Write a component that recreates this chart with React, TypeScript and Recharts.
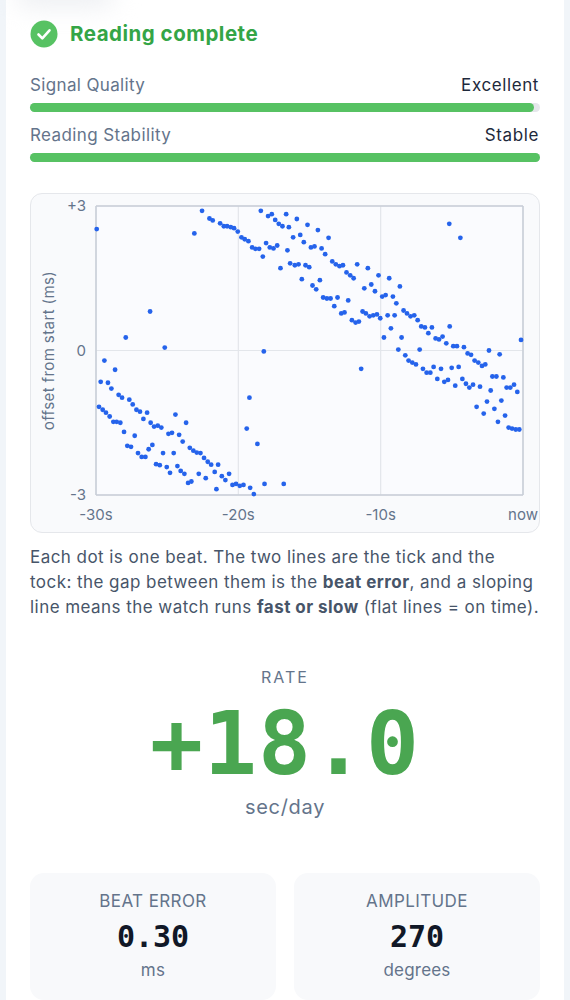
import type { CSSProperties, ReactNode } from 'react';
import { CartesianGrid, ReferenceLine, Scatter, ScatterChart, XAxis, YAxis } from 'recharts';

const xTicks = [-30, -20, -10, 0];
const yTicks = [-3, 0, 3];
const xTickLabels = ['-30s', '-20s', '-10s', 'now'];
const yTickLabels = ['-3', '0', '+3'];

// seconds before now
const beatSeconds = [
  -29.95, -23.09, -22.55, -22.03, -21.8, -21.28, -21.02, -20.79, -20.53, -20.3, -20.04, -19.78, -19.55, -19.29, -19.03, -18.8, -18.54, -18.28, -18.05, -17.79, -17.53, -17.27,
  -18.42, -17.91, -17.65, -17.41, -17.16, -16.9, -16.64, -16.45, -16.55, -17.04, -16.36, -26.2, -27.91, -25.17, -18.21,
  -15.89, -15.14, -14.41, -13.66, -16.15, -15.65, -15.4, -14.9, -14.65, -14.15, -13.9, -13.4, -13.15, -12.89, -12.65, -12.4, -12.14, -11.9, -11.65, -10.9, -10.15, -9.4, -8.65,
  -16.03, -15.77, -15.28, -15.02, -15.54, -14.79, -14.53, -14.27, -14.04, -13.78, -13.52, -13.03, -12.28, -13.26, -12.77, -12.54, -12.02, -11.76, -11.53, -11.27, -11.04, -10.78, -10.52, -10.26, -10.03,
  -11.15, -10.66, -10.4, -9.89, -9.65, -9.14, -8.9, -9.51, -9.02, -9.28, -9.77, -8.53, -8.39, -8.15, -7.9, -7.64, -7.4, -7.15, -6.89, -6.4, -6.65, -6.14, -5.9, -5.65, -5.39, -5.15, -4.9, -4.64, -4.15, -3.89, -3.65, -2.39, -1.64, -0.14, -5.18, -4.4, -8.76, -8.27, -7.26,
  -11.37, -8.04, -7.78, -7.52, -7.03, -6.77, -6.51, -6.28, -5.76, -6.02, -5.53, -5.27, -5.01, -4.52, -4.76, -4.26, -4.01, -3.77, -3.51, -3.02, -3.4, -3.14, -2.88, -2.65, -2.15, -1.87, -1.38, -1.15, -0.89, -0.63, -0.4, -2.27, -2.53, -3.26, -2.76, -2.01, -1.52, -1.76, -1.26, -1.01, -0.77, -0.51, -0.26,
  -29.41, -28.66, -29.67, -29.16, -28.92, -28.41, -28.17, -27.66, -27.42, -27.16, -26.91, -26.41, -26.67, -26.16, -25.92, -25.66, -25.41, -24.91, -24.66, -24.42, -23.67, -24.16, -23.91, -23.41, -23.16, -22.92, -22.66, -22.41, -22.15, -21.91, -21.42, -21.66, -21.16, -20.65, -20.91, -20.41, -20.16, -19.9, -19.64, -19.17, -18.91, -18.16, -16.81, -19.22, -19.41, -18.66,
  -29.79, -29.53, -29.3, -29.04, -28.78, -28.55, -28.29, -28.03, -27.28, -27.8, -27.54, -27.05, -26.79, -26.53, -26.3, -26.04, -25.29, -24.54, -25.78, -25.52, -25.03, -24.8, -24.28, -24.05, -23.79, -23.53, -23.3, -22.78, -22.29, -21.54,
];

// offset in ms, same order as beatSeconds
const beatOffsets = [
  2.52, 2.43, 2.9, 2.74, 2.7, 2.64, 2.58, 2.58, 2.56, 2.54, 2.47, 2.35, 2.31, 2.27, 2.14, 2.11, 2.11, 1.95, 2.23, 2.14, 2.12, 2.18,
  2.9, 2.79, 2.83, 2.71, 2.63, 2.58, 2.83, 2.56, 2.08, 1.71, 1.81, 0.81, 0.27, 0.06, -0.02,
  2.73, 2.61, 2.5, 2.34, 2.35, 2.4, 2.25, 2.14, 2.16, 2.12, 2.0, 1.85, 1.79, 1.75, 1.77, 1.62, 1.56, 1.5, 1.79, 1.71, 1.56, 1.5, 1.33,
  1.77, 1.79, 1.77, 1.73, 1.48, 1.35, 1.27, 1.46, 1.1, 1.08, 1.08, 1.1, 1.04, 0.92, 0.77, 0.79, 0.63, 0.58, 0.6, 0.81, 0.77, 0.71, 0.73, 0.75, 0.67,
  1.29, 1.37, 1.23, 1.12, 1.15, 1.12, 0.98, 0.73, 0.73, 0.46, 0.27, 0.27, 0.83, 0.77, 0.71, 0.73, 0.63, 0.5, 0.48, 0.48, 0.36, 0.25, 0.23, 0.29, 0.15, 0.5, 0.09, 0.09, 0.07, -0.06, -0.09, 0.0, -0.08, 0.22, 2.63, 2.34, 0.02, -0.1, 0.02,
  -0.38, -0.21, -0.25, -0.29, -0.38, -0.46, -0.46, -0.34, -0.38, -0.59, -0.65, -0.61, -0.36, -0.34, -0.73, -0.59, -0.69, -0.77, -0.71, -0.75, -0.21, -0.25, -0.32, -0.29, -0.54, -0.54, -0.56, -0.77, -0.77, -0.71, -0.86, -0.83, -1.06, -1.17, -1.31, -1.21, -1.04, -1.48, -1.35, -1.6, -1.62, -1.64, -1.64,
  -0.21, -0.4, -0.65, -0.67, -0.79, -0.92, -0.98, -1.02, -1.12, -1.23, -1.27, -1.29, -1.42, -1.5, -1.58, -1.56, -1.6, -1.73, -1.71, -1.33, -1.5, -1.75, -1.89, -2.02, -2.08, -2.12, -2.13, -2.23, -2.31, -2.37, -2.37, -2.52, -2.61, -2.56, -2.69, -2.79, -2.77, -2.81, -2.79, -2.85, -2.98, -2.77, -2.77, -0.98, -1.62, -1.94,
  -1.17, -1.23, -1.29, -1.37, -1.48, -1.48, -1.5, -1.69, -1.77, -1.98, -2.0, -2.13, -2.21, -2.21, -2.05, -1.96, -2.13, -2.13, -2.36, -2.38, -2.42, -2.54, -2.4, -2.5, -2.56, -2.75, -2.72, -2.56, -2.65, -2.88,
];

const beats = beatSeconds.map((t, i) => ({ t, offset: beatOffsets[i] }));

const SANS = 'Inter, sans-serif';
const MONO = '"DejaVu Sans Mono", monospace';
const GREY = '#64748b';
const INK = '#1e293b';
const GREEN = '#57c263';
const DARK_GREEN = '#34a546';
const RATE_GREEN = '#4aa651';
const FRAME = '#c9ced7';
const GRID = '#e3e6eb';

function Txt({ x, y, w, align = 'left', style, children }: { x: number; y: number; w: number; align?: 'left' | 'right' | 'center'; style?: CSSProperties; children: ReactNode }) {
  return (
    <div style={{ position: 'absolute', left: x, top: y - 20, width: w, height: 40, lineHeight: '40px', textAlign: align, whiteSpace: 'nowrap', fontFamily: SANS, ...style }}>
      {children}
    </div>
  );
}

function Bar({ y, pct }: { y: number; pct: number }) {
  return (
    <div style={{ position: 'absolute', left: 30, top: y, width: 510, height: 9, borderRadius: 5, background: '#e5e7eb' }}>
      <div style={{ width: `${pct}%`, height: 9, borderRadius: 5, background: GREEN }} />
    </div>
  );
}

function Stat({ x, label, value, unit }: { x: number; label: string; value: string; unit: string }) {
  return (
    <>
      <div style={{ position: 'absolute', left: x, top: 873, width: 246, height: 127, borderRadius: 14, background: '#f8f9fb' }} />
      <Txt x={x} y={901} w={246} align="center" style={{ fontSize: 17, letterSpacing: 0.4, color: GREY }}>{label}</Txt>
      <Txt x={x} y={937} w={246} align="center" style={{ fontSize: 30, fontWeight: 700, fontFamily: MONO, color: '#111827' }}>{value}</Txt>
      <Txt x={x} y={970} w={246} align="center" style={{ fontSize: 17, letterSpacing: 0.2, color: GREY }}>{unit}</Txt>
    </>
  );
}

const Dot = (props: any) => <circle cx={props.cx} cy={props.cy} r={2.4} fill="#2563eb" />;

const noteStyle: CSSProperties = { fontSize: 17, letterSpacing: 0.45, color: '#475569' };

export default function App() {
  return (
    <div style={{ position: 'absolute', left: 0, top: 0, width: 570, height: 1000, overflow: 'hidden', background: '#f1f5f9' }}>
      <div style={{ position: 'absolute', left: 6, top: -20, width: 558, height: 1040, background: '#fff' }} />
      <div style={{ position: 'absolute', left: 15, top: -22, width: 100, height: 30, borderRadius: 15, background: '#eef0f3', filter: 'blur(12px)' }} />

      <svg style={{ position: 'absolute', left: 30, top: 20 }} width={28} height={28} viewBox="0 0 28 28">
        <circle cx={14} cy={14} r={13.5} fill={GREEN} />
        <path d="M8.5 14.5l3.8 3.8 7.2-8" fill="none" stroke="#fff" strokeWidth={2.6} strokeLinecap="round" strokeLinejoin="round" />
      </svg>
      <Txt x={70} y={34} w={300} style={{ fontSize: 20.5, fontWeight: 700, letterSpacing: 0.5, color: DARK_GREEN }}>Reading complete</Txt>

      <Txt x={30} y={85} w={300} style={{ fontSize: 17, letterSpacing: 0.35, color: GREY }}>Signal Quality</Txt>
      <Txt x={240} y={85} w={299} align="right" style={{ fontSize: 17, letterSpacing: 0.6, color: INK }}>Excellent</Txt>
      <Bar y={103} pct={98.9} />
      <Txt x={30} y={135} w={300} style={{ fontSize: 17, letterSpacing: 0.4, color: GREY }}>Reading Stability</Txt>
      <Txt x={240} y={135} w={299} align="right" style={{ fontSize: 17, letterSpacing: 0.6, color: INK }}>Stable</Txt>
      <Bar y={153} pct={100} />

      <div style={{ position: 'absolute', left: 30, top: 193, width: 508, height: 338, border: '1px solid #e5e7eb', borderRadius: 12, background: '#f9fafc' }} />
      <div style={{ position: 'absolute', left: 30, top: 193 }}>
        <ScatterChart width={510} height={340} margin={{ top: 13, right: 17, bottom: 0, left: 0 }}>
          <CartesianGrid fill="#fafbfe" stroke={GRID} strokeWidth={1.2} />
          <XAxis
            type="number"
            dataKey="t"
            domain={[-30, 0]}
            ticks={xTicks}
            interval={0}
            height={38}
            tickLine={false}
            tickMargin={8}
            stroke={FRAME}
            strokeWidth={1.5}
            tick={{ fill: GREY, fontSize: 15, fontFamily: SANS }}
            tickFormatter={(v: number) => xTickLabels[xTicks.indexOf(v)]}
          />
          <YAxis
            type="number"
            dataKey="offset"
            domain={[-3, 3]}
            ticks={yTicks}
            interval={0}
            width={66}
            tickLine={false}
            tickMargin={4}
            stroke={FRAME}
            strokeWidth={1.5}
            tick={{ fill: GREY, fontSize: 15, fontFamily: SANS }}
            tickFormatter={(v: number) => yTickLabels[yTicks.indexOf(v)]}
            label={{ value: 'offset from start (ms)', angle: -90, position: 'insideLeft', offset: 19, style: { textAnchor: 'middle', fill: GREY, fontSize: 15, letterSpacing: 0.4, fontFamily: SANS } }}
          />
          <ReferenceLine y={3} stroke={FRAME} strokeWidth={1.5} />
          <ReferenceLine x={0} stroke={FRAME} strokeWidth={1.5} />
          <Scatter data={beats} shape={Dot} isAnimationActive={false} />
        </ScatterChart>
      </div>

      <Txt x={30} y={557} w={530} style={noteStyle}>Each dot is one beat. The two lines are the tick and the</Txt>
      <Txt x={30} y={582} w={530} style={noteStyle}>tock: the gap between them is the <b>beat error</b>, and a sloping</Txt>
      <Txt x={30} y={607} w={530} style={noteStyle}>line means the watch runs <b>fast or slow</b> (flat lines = on time).</Txt>

      <Txt x={0} y={677} w={570} align="center" style={{ fontSize: 16, letterSpacing: 2, color: GREY }}>RATE</Txt>
      <div style={{ position: 'absolute', left: 0, top: 684, width: 570, height: 120, lineHeight: '120px', textAlign: 'center', fontFamily: MONO, fontSize: 88, fontWeight: 700, letterSpacing: 1, color: RATE_GREEN }}>+18.0</div>
      <Txt x={0} y={807} w={570} align="center" style={{ fontSize: 20, letterSpacing: 0.7, color: GREY }}>sec/day</Txt>

      <Stat x={30} label="BEAT ERROR" value="0.30" unit="ms" />
      <Stat x={294} label="AMPLITUDE" value="270" unit="degrees" />
    </div>
  );
}
